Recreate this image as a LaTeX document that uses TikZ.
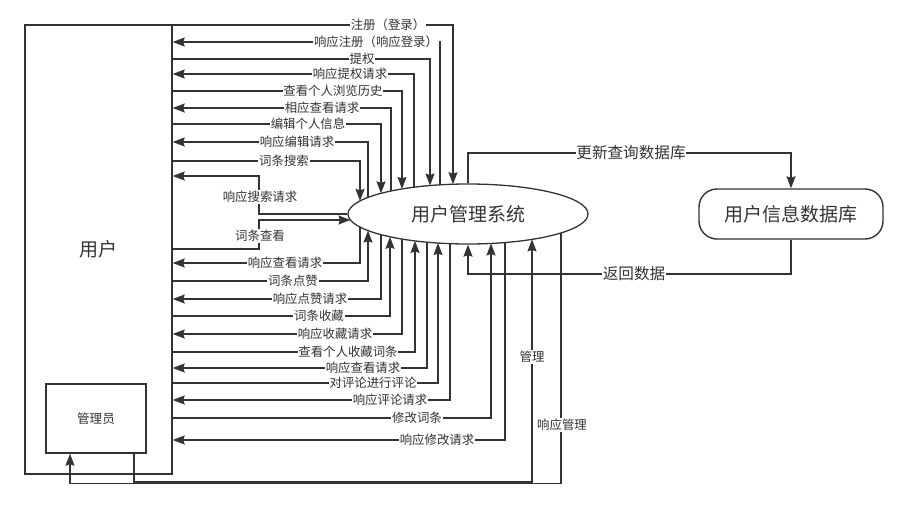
\documentclass[tikz,border=0pt]{standalone}
\usepackage{fontspec}
\setmainfont{Noto Sans CJK SC}
\usetikzlibrary{arrows.meta,calc,shapes.geometric}
\definecolor{ln}{HTML}{333333}
\newcommand\EtopPt[2]{\coordinate (#1) at ($(sys.center)+({#2-468},{-30*sqrt(1-((#2-468)/120)^2)})$);}
\newcommand\EbotPt[2]{\coordinate (#1) at ($(sys.center)+({#2-468},{30*sqrt(1-((#2-468)/120)^2)})$);}
% box -> ellipse top: y, vx, label, label x, id
\newcommand\TopIn[5]{\EtopPt{T#5}{#2}\draw[arr] (ub.east |- 0,#1) -| (T#5);\node[lbl] (L#5) at (#4,#1) {#3};}
% ellipse top -> box
\newcommand\TopOut[5]{\EtopPt{T#5}{#2}\draw[arr] (T#5) |- (ub.east |- 0,#1);\node[lbl] (L#5) at (#4,#1) {#3};}
\newcommand\BotIn[5]{\EbotPt{B#5}{#2}\draw[arr] (ub.east |- 0,#1) -| (B#5);\node[lbl] (L#5) at (#4,#1) {#3};}
\newcommand\BotOut[5]{\EbotPt{B#5}{#2}\draw[arr] (B#5) |- (ub.east |- 0,#1);\node[lbl] (L#5) at (#4,#1) {#3};}
\begin{document}
\begin{tikzpicture}[x=1pt,y=-1pt,
  line/.style={draw=ln,line width=1.3pt},
  arr/.style={line,-{Stealth[length=12pt,width=9pt,inset=1.5pt]}},
  lbl/.style={fill=white,inner sep=0.8pt,text=ln,font=\fontsize{12.4}{13}\selectfont},
  lblbig/.style={fill=white,inner sep=0.8pt,text=ln,font=\fontsize{15.6}{17}\selectfont},
  big/.style={font=\fontsize{19}{22}\selectfont,text=ln}]
\useasboundingbox (0,0) rectangle (907,509);
% nodes
\node[draw=ln,line width=1.4pt,minimum width=147pt,minimum height=449pt,inner sep=0,big] (ub) at (98.5,249.5) {用户};
\node[draw=ln,line width=1.4pt,minimum width=100pt,minimum height=69pt,inner sep=0,text=ln,font=\fontsize{12.6}{14}\selectfont] (adm) at (96,418.5) {管理员};
\node[ellipse,draw=ln,line width=1.3pt,minimum width=240pt,minimum height=60pt,inner sep=0,big] (sys) at (468,214) {用户管理系统};
\node[draw=ln,line width=1.4pt,rounded corners=18pt,minimum width=184pt,minimum height=50pt,inner sep=0,big] (db) at (791,214) {用户信息数据库};
% top connectors
\TopIn{25}{453}{注册（登录）}{388}{a}
\TopOut{42}{440}{响应注册（响应登录）}{376}{b}
\TopIn{59}{430}{提权}{362}{c}
\TopOut{74}{414}{响应提权请求}{350}{d}
\TopIn{91}{402}{查看个人浏览历史}{333}{e}
\TopOut{108}{391}{相应查看请求}{322}{f}
\TopIn{124}{381}{编辑个人信息}{308}{g}
\TopOut{142}{368}{响应编辑请求}{297}{h}
\TopIn{161}{360}{词条搜索}{284}{i}
% left side
\coordinate (k1) at (259,214);
\draw[arr] (sys.west) -- (k1) |- (ub.east |- 0,176);
\node[lbl] (Lj) at (260,197) {响应搜索请求};
\coordinate (k2) at (259,220);
\coordinate (W220) at ($(sys.center)+({-120*sqrt(1-(6/30)^2)},6)$);
\draw[arr] (ub.east |- 0,249) -| (k2) -- (W220);
\node[lbl] (Lk) at (260,236) {词条查看};
% bottom connectors
\BotOut{263}{360}{响应查看请求}{285}{l}
\BotIn{281}{368}{词条点赞}{293}{m}
\BotOut{299}{381}{响应点赞请求}{310}{n}
\BotIn{316}{390}{词条收藏}{319}{o}
\BotOut{334}{402}{响应收藏请求}{335}{p}
\BotIn{352}{415}{查看个人收藏词条}{348}{q}
\BotOut{368}{427}{响应查看请求}{363}{r}
\BotIn{383}{438}{对评论进行评论}{373}{s}
\BotOut{400}{450}{响应评论请求}{390}{t}
\BotIn{418}{491}{修改词条}{417}{u}
\BotOut{440}{505}{响应修改请求}{437}{v}
% admin
\EbotPt{B532}{532}
\EbotPt{B561}{561}
\coordinate (m1) at (532,482);
\coordinate (m2) at (561,483.4);
\draw[arr] (adm.south -| 134,0) |- (m1) -- (B532);
\node[lbl] (Lw) at (532,357) {管理};
\draw[arr] (B561) -- (m2) -| (adm.south -| 70,0);
\node[lbl] (Lx) at (562,425) {响应管理};
% database
\coordinate (u1) at (468,153);
\draw[arr] (sys.north) -- (u1) -| (db.north);
\node[lblbig] (Ly) at (631,153) {更新查询数据库};
\coordinate (r1) at (468,274);
\draw[arr] (db.south) |- (r1) -- (sys.south);
\node[lblbig] (Lz) at (634,274) {返回数据};
\end{tikzpicture}
\end{document}
